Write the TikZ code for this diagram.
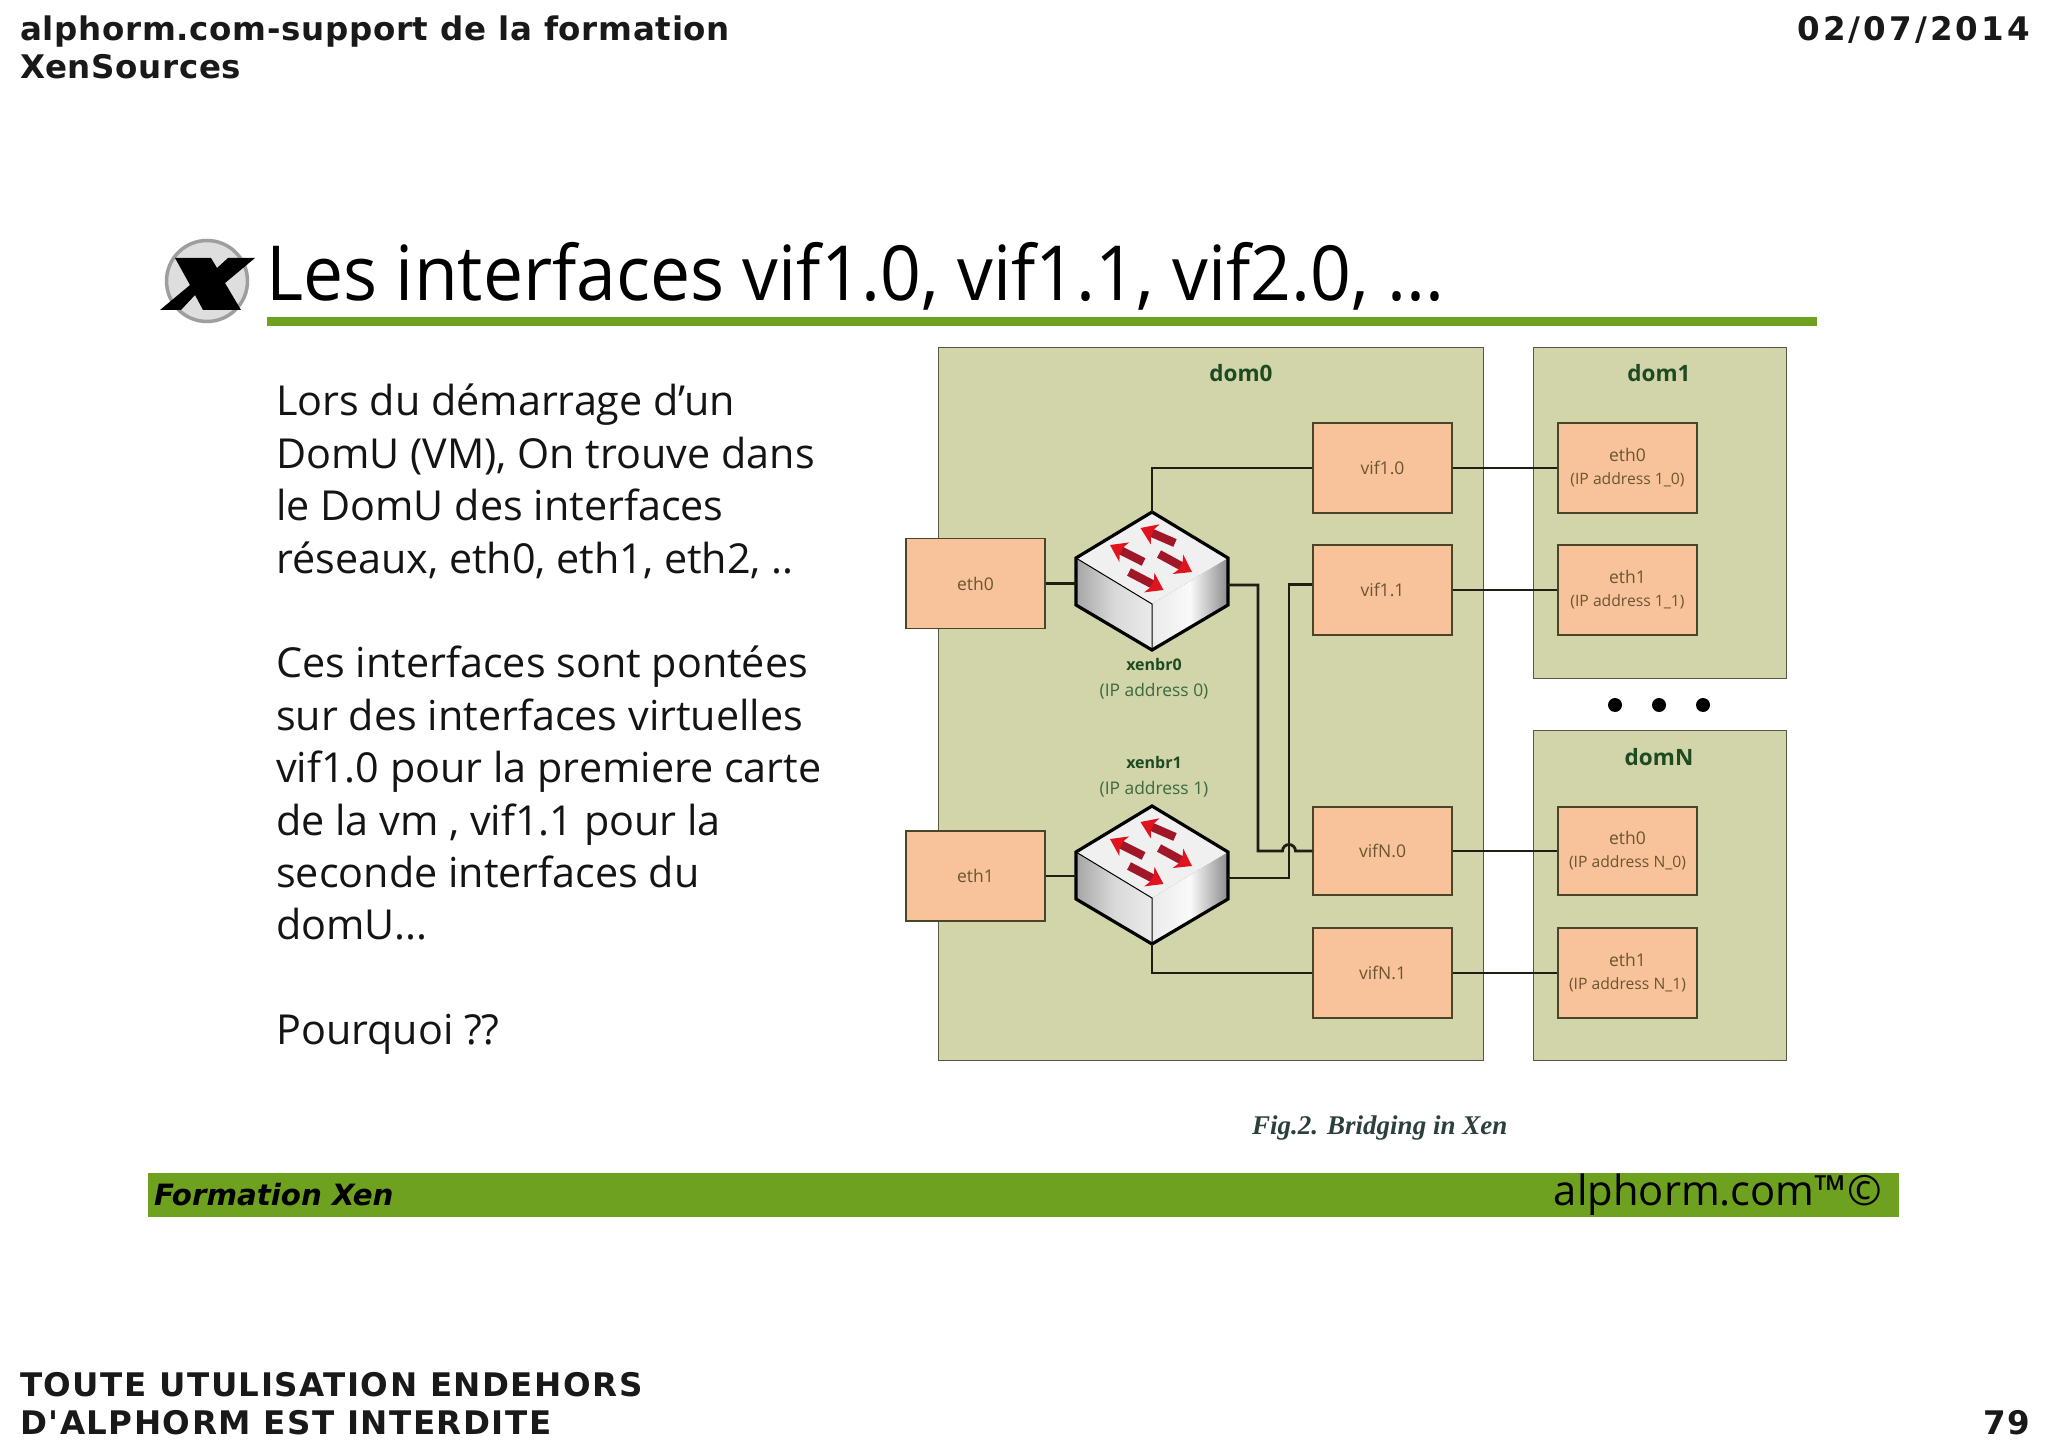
\documentclass[tikz,border=0pt]{standalone}
\usepackage{fontspec}
\setmainfont{Open Sans}
\newfontfamily\hdfont[LetterSpace=2.1]{DejaVu Sans Bold}
\newfontfamily\hdfontb[LetterSpace=4.6]{DejaVu Sans Bold}
\newfontfamily\hdfontc[LetterSpace=9.5]{DejaVu Sans Bold}
\newfontfamily\ffont{DejaVu Sans}
\newfontfamily\slfont{Open Sans}
\newfontfamily\titlefont[FakeStretch=0.94]{Open Sans}
\newfontfamily\capfont{Liberation Serif}
\usetikzlibrary{calc,shadings}
\definecolor{domfill}{HTML}{D2D4A9}
\definecolor{domline}{HTML}{55584A}
\definecolor{boxfill}{HTML}{F8C39A}
\definecolor{boxline}{HTML}{4A4428}
\definecolor{boxtext}{HTML}{6B5530}
\definecolor{dgreen}{HTML}{1E4A22}
\definecolor{mgreen}{HTML}{3A6A3E}
\definecolor{barg}{HTML}{6DA11F}
\definecolor{wire}{HTML}{1E1E14}
\definecolor{arrowred}{HTML}{E0141E}
\definecolor{arrowdark}{HTML}{A01828}
\definecolor{capcol}{HTML}{2B3F3C}
\tikzset{
  x=1pt,y=-1pt,
  domain box/.style={draw=domline,fill=domfill,line width=1.4pt,anchor=north west,inner sep=0pt},
  ifbox/.style={draw=boxline,fill=boxfill,line width=1.3pt,inner sep=0pt,text=boxtext,align=center,font=\slfont\fontsize{17.5}{23}\selectfont},
  wirel/.style={draw=wire,line width=2.8pt,line join=miter},
  domlabel/.style={font=\slfont\bfseries\fontsize{22.5}{26}\selectfont,text=dgreen,inner sep=0pt},
  brname/.style={font=\slfont\bfseries\fontsize{16}{20}\selectfont,text=dgreen,inner sep=0pt},
  braddr/.style={font=\slfont\fontsize{17.4}{20}\selectfont,text=mgreen,inner sep=0pt},
  headtxt/.style={anchor=base west,inner sep=0pt,text=black!90},
  swbox/.style={minimum width=152pt,minimum height=138pt,inner sep=0pt},
}
\newcommand{\hdsz}{\fontsize{32.5}{38}\selectfont}
% switch drawn about its centre
\newcommand{\swdraw}[2]{%
\begin{scope}[shift={(#1,#2)}]
 \fill[left color=black!35,right color=black!8,middle color=black!15] (-76,-23) -- (0,23) -- (0,69) -- (-76,24) -- cycle;
 \fill[left color=black!8,right color=black!45,middle color=black!2] (76,-23) -- (0,23) -- (0,69) -- (76,24) -- cycle;
 \fill[black!6] (0,-69) -- (76,-23) -- (0,23) -- (-76,-23) -- cycle;
 \draw[black,line width=1pt] (-76,-23) -- (0,23) -- (0,69);
 \draw[black,line width=3.2pt,line join=miter] (0,-69) -- (76,-23) -- (76,24) -- (0,69) -- (-76,24) -- (-76,-23) -- cycle;
 \foreach \ax/\ay/\bx/\by in {
   23/-38/-11.5/-53,
   -8.4/-19/-42/-36,
   7/-27/40/-9,
   -23/-9/11.5/9}{
   \pgfmathsetmacro{\alen}{veclen(\bx-\ax,\by-\ay)}
   \begin{scope}[shift={(\bx,\by)},rotate={atan2(\ay-\by,\bx-\ax)}]
   \fill[arrowdark] (-\alen,-4.2) -- (-10,-4.2) -- (-10,4.2) -- (-\alen,4.2) -- cycle;
   \fill[arrowred] (-16,-11) -- (0,0) -- (-16,11) -- (-13,4.2) -- (-13,-4.2) -- cycle;
   \end{scope}
 }
\end{scope}}
\begin{document}
\begin{tikzpicture}
\useasboundingbox (0,0) rectangle (2048,1447);
\fill[white] (0,0) rectangle (2048,1447);

% header / footer
\node[headtxt,font=\hdfont\hdsz] (h1) at (20,41) {alphorm.com-support de la formation};
\node[headtxt,font=\hdfont\hdsz] (h1b) at (20,79) {XenSources};
\node[headtxt,anchor=base east,font=\hdfontc\hdsz] (h2) at (2030,41) {02/07/2014};
\node[headtxt,font=\hdfontb\hdsz] (f1) at (20,1396) {TOUTE UTULISATION ENDEHORS};
\node[headtxt,font=\hdfontb\hdsz] (f1b) at (20,1434) {D'ALPHORM EST INTERDITE};
\node[headtxt,anchor=base east,font=\hdfontb\hdsz] (f2) at (2030,1434) {79};

% logo
\node[circle,draw=black!38,fill=black!13,line width=3.5pt,minimum size=81pt,inner sep=0pt] (logo) at (207,281) {};
\fill[black] (175,258) -- (211,258) -- (217,268) -- (228,258) -- (255,258) -- (225,283) -- (241,310) -- (203,310) -- (195,295) -- (181,310) -- (160,310) -- (190,285) -- cycle;

% title
\node[anchor=base west,inner sep=0pt,font=\titlefont\fontsize{76}{80}\selectfont] (title) at (266,301) {Les interfaces vif1.0, vif1.1, vif2.0, ...};
\fill[barg] (267,317) rectangle (1817,326);

% body
\node[anchor=north west,inner sep=0pt,align=left,font=\slfont\fontsize{41.3}{52.4}\selectfont,text=black!92] (body) at (276,384) {Lors du démarrage d’un\\DomU (VM), On trouve dans\\le DomU des interfaces\\réseaux, eth0, eth1, eth2, ..\\[52.4pt]Ces interfaces sont pontées\\sur des interfaces virtuelles\\vif1.0 pour la premiere carte\\de la vm , vif1.1 pour la\\seconde interfaces du\\domU...\\[52.4pt]Pourquoi ??};

% domains
\node[domain box,minimum width=545pt,minimum height=713pt] (dom0) at (938,347) {};
\node[domain box,minimum width=253pt,minimum height=331pt] (dom1) at (1533,347) {};
\node[domain box,minimum width=253pt,minimum height=330pt] (domN) at (1533,730) {};
\node[domlabel] (l0) at (1241,373) {dom0};
\node[domlabel] (l1) at (1659,373) {dom1};
\node[domlabel] (lN) at (1659,757) {domN};

% boxes
\tikzset{vifs/.style={ifbox,minimum width=139pt,minimum height=90pt},
         ethd/.style={ifbox,minimum width=139pt,minimum height=90pt},
         ethb/.style={ifbox,minimum width=139pt,minimum height=90pt}}
\node[vifs] (v10) at (1382.5,468) {vif1.0};
\node[vifs] (v11) at (1382.5,590) {vif1.1};
\node[vifs,minimum height=88pt] (vN0) at (1382.5,851) {vifN.0};
\node[vifs] (vN1) at (1382.5,973) {vifN.1};
\node[ethb] (e0) at (975.5,583.5) {eth0};
\node[ethb] (e1) at (975.5,876) {eth1};
\node[ethd] (d10) at (1627.5,468) {eth0\\[0pt]\fontsize{15.7}{20}\selectfont(IP address 1\_0)};
\node[ethd] (d11) at (1627.5,590) {eth1\\[0pt]\fontsize{15.7}{20}\selectfont(IP address 1\_1)};
\node[ethd,minimum height=88pt] (dN0) at (1627.5,851) {eth0\\[0pt]\fontsize{15.7}{20}\selectfont(IP address N\_0)};
\node[ethd] (dN1) at (1627.5,973) {eth1\\[0pt]\fontsize{15.7}{20}\selectfont(IP address N\_1)};

% switches
\node[swbox] (sw0) at (1152,581) {};
\node[swbox] (sw1) at (1152,875) {};
\swdraw{1152}{581}
\swdraw{1152}{875}
\node[brname] (b0) at (1154,664) {xenbr0};
\node[braddr] (b0a) at (1154,691) {(IP address 0)};
\node[brname] (b1) at (1154,762) {xenbr1};
\node[braddr] (b1a) at (1154,789) {(IP address 1)};

% wires
\coordinate (j0) at (1258,851);
\coordinate (j1) at (1289,878);
\draw[wirel] (sw0.north) |- (v10.west);
\draw[wirel] (e0.east) -- (e0.east -| sw0.west);
\draw[wirel] (e1.east) -- (e1.east -| sw1.west);
\draw[wirel] ($(sw0.east)+(0,4)$) -| (j0) -- (1282.5,851) arc[start angle=180,end angle=360,radius=6.5] -- (vN0.west);
\draw[wirel] ($(v11.west)+(0,-5.5)$) -| (j1) -- ($(sw1.east)+(0,3)$);
\draw[wirel] (sw1.south) |- (vN1.west);
\draw[wirel] (v10.east) -- (d10.west);
\draw[wirel] (v11.east) -- (d11.west);
\draw[wirel] (vN0.east) -- (dN0.west);
\draw[wirel] (vN1.east) -- (dN1.west);

% dots
\foreach \n/\x in {a/1615,b/1659,c/1703}{\node[circle,fill=black,minimum size=14pt,inner sep=0pt] (dot\n) at (\x,705) {};}

% caption
\node[anchor=base west,inner sep=0pt,font=\capfont\bfseries\itshape\fontsize{27}{30}\selectfont,text=capcol] (cap) at (1252,1134) {Fig.2. Bridging in Xen};

% bottom bar
\fill[barg] (148,1173) rectangle (1899,1217);
\node[anchor=base west,inner sep=0pt,font=\ffont\bfseries\itshape\fontsize{29.3}{30}\selectfont] (fx) at (154,1205) {Formation Xen};
\node[anchor=base east,inner sep=0pt,font=\slfont\fontsize{41.7}{44}\selectfont] (am) at (1882,1205) {alphorm.com™©};
\end{tikzpicture}
\end{document}
